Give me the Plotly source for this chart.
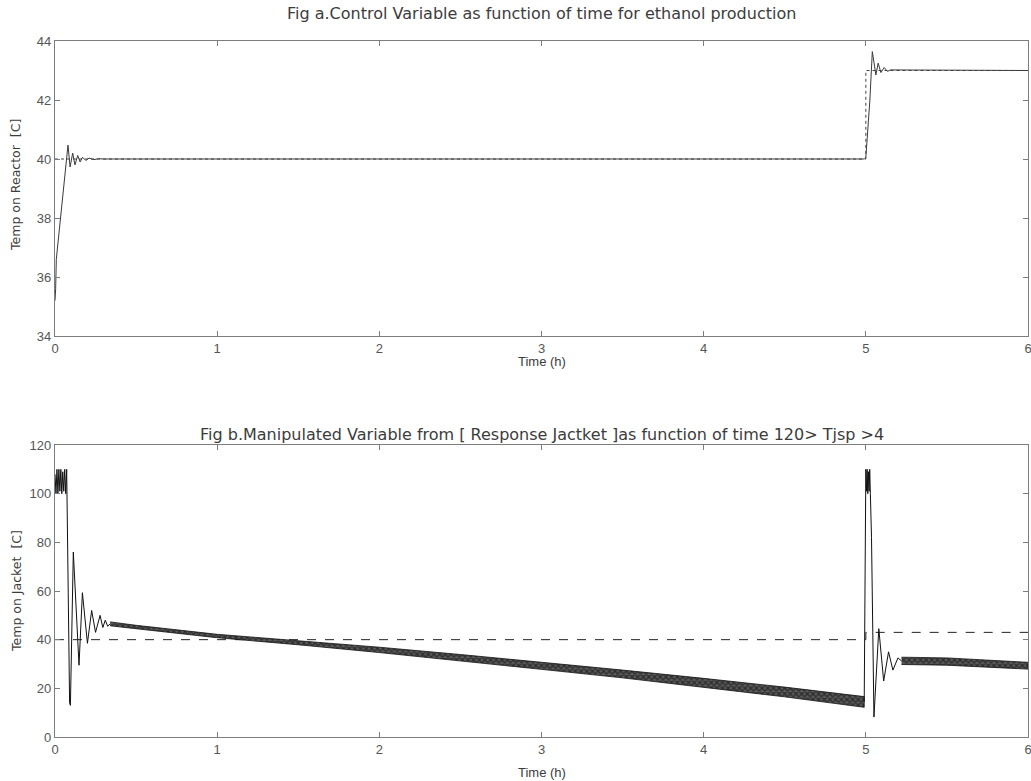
import plotly.graph_objects as go

# ---------------- Fig a: reactor temperature (controlled variable) ----------------
time_a = [0.0, 0.004, 0.008, 0.08, 0.093, 0.109, 0.123, 0.14, 0.155, 0.17, 0.19,
          0.21, 0.24, 0.27, 0.3, 0.33, 4.99, 5.0, 5.025, 5.04, 5.062, 5.076,
          5.093, 5.113, 5.134, 5.15, 6.0]
temp_reactor = [35.2, 35.6, 36.6, 40.47, 39.73, 40.2, 39.8, 40.12, 39.9, 40.06, 39.95,
                40.03, 39.98, 40.01, 40.0, 40.0, 40.0, 40.05, 42.0, 43.64, 42.85, 43.25,
                42.93, 43.1, 42.97, 43.02, 43.0]

# reactor set point
sp_time = [0.0, 5.0, 5.0, 6.0]
sp_reactor = [40, 40, 43, 43]

# ---------------- Fig b: jacket temperature (manipulated variable) ----------------
# start-up transient
time_b_start = [0.0, 0.006, 0.012, 0.018, 0.024, 0.03, 0.036, 0.042, 0.048, 0.054, 0.06,
                0.066, 0.072, 0.078, 0.09, 0.095, 0.113, 0.148, 0.169, 0.2, 0.226, 0.25,
                0.278, 0.295, 0.31, 0.325, 0.34]
jacket_start = [108, 100, 110, 100, 110, 101, 110, 100, 109, 101, 110,
                100, 110, 84, 14, 13, 76, 29.5, 59.3, 38.5, 52, 43,
                50, 45, 48, 45.5, 46.5]

# fast oscillating band (centre and half amplitude) from start-up to the step
band1_time = [0.34, 0.5, 1.0, 1.5, 2.0, 2.5, 3.0, 3.5, 4.0, 4.5, 4.99]
band1_mid = [46.5, 45.2, 41.5, 38.8, 35.8, 32.6, 29.3, 25.9, 22.3, 18.5, 14.4]
band1_half = [0.8, 0.7, 0.7, 0.9, 1.1, 1.3, 1.5, 1.6, 1.8, 2.0, 2.2]

# response to the set-point step at t = 5 h
time_b_step = [4.99, 5.0, 5.004, 5.008, 5.012, 5.016, 5.02, 5.024, 5.028, 5.035,
               5.05, 5.08, 5.11, 5.14, 5.167, 5.198, 5.22]
jacket_step = [14.4, 110, 101, 110, 100, 109, 101, 110, 100, 82,
               8.2, 44.5, 23, 35, 27.5, 32.5, 31.3]

band2_time = [5.22, 5.5, 6.0]
band2_mid = [31.3, 31.0, 29.3]
band2_half = [1.5, 1.5, 1.4]

# jacket reference
sp_jacket = [40, 40, 43, 43]

x_ticks = [0, 1, 2, 3, 4, 5, 6]

TEXT = "#3c3c3c"
AXIS = "#7d7d7d"
WIDE = "DejaVu Sans, Verdana, sans-serif"
NARROW = "Liberation Sans Narrow, Liberation Sans, Arial, sans-serif"


def band_polygon(t, mid, half):
    upper = [m + h for m, h in zip(mid, half)]
    lower = [m - h for m, h in zip(mid, half)]
    return t + t[::-1], upper + lower[::-1]


fig = go.Figure()

fig.add_trace(go.Scatter(x=sp_time, y=sp_reactor, mode="lines",
                         line=dict(color="#444444", width=1, dash="dot"),
                         xaxis="x", yaxis="y", showlegend=False))
fig.add_trace(go.Scatter(x=time_a, y=temp_reactor, mode="lines",
                         line=dict(color="#3a3a3a", width=1),
                         xaxis="x", yaxis="y", showlegend=False))

fig.add_trace(go.Scatter(x=sp_time, y=sp_jacket, mode="lines",
                         line=dict(color="#222222", width=1, dash="dash"),
                         xaxis="x2", yaxis="y2", showlegend=False))
for t, mid, half in [(band1_time, band1_mid, band1_half),
                     (band2_time, band2_mid, band2_half)]:
    px, py_ = band_polygon(t, mid, half)
    fig.add_trace(go.Scatter(x=px, y=py_, mode="lines", fill="toself",
                             fillcolor="#333333",
                             fillpattern=dict(shape="x", size=4, solidity=0.55,
                                              fgcolor="#000000", bgcolor="#5a5a5a"),
                             line=dict(color="#111111", width=0.8),
                             xaxis="x2", yaxis="y2", showlegend=False))
fig.add_trace(go.Scatter(x=time_b_start, y=jacket_start, mode="lines",
                         line=dict(color="#111111", width=1),
                         xaxis="x2", yaxis="y2", showlegend=False))
fig.add_trace(go.Scatter(x=time_b_step, y=jacket_step, mode="lines",
                         line=dict(color="#111111", width=1),
                         xaxis="x2", yaxis="y2", showlegend=False))

axis_common = dict(showgrid=False, zeroline=False, showline=True, linecolor=AXIS,
                   linewidth=1.2, mirror="ticks", ticks="inside", ticklen=5,
                   tickcolor=AXIS, tickwidth=1, automargin=False,
                   tickfont=dict(family=NARROW, size=13, color="#555555"))

M_L, M_R, M_T, M_B = 55, 3, 41, 44
H = 781
plot_h = H - M_T - M_B
plot_w = 1031 - M_L - M_R


def py(ypx):
    return (H - M_B - ypx) / plot_h


fig.update_layout(
    width=1031, height=781,
    margin=dict(l=M_L, r=M_R, t=M_T, b=M_B),
    paper_bgcolor="white", plot_bgcolor="white",
    xaxis=dict(domain=[0, 1], range=[0, 6], tickvals=x_ticks, anchor="y",
               ticklabeloverflow="allow", **axis_common),
    yaxis=dict(domain=[py(336), 1], range=[34, 44], dtick=2, anchor="x", **axis_common),
    xaxis2=dict(domain=[0, 1], range=[0, 6], tickvals=x_ticks, anchor="y2",
                ticklabeloverflow="allow", **axis_common),
    yaxis2=dict(domain=[0, py(445)], range=[0, 120], dtick=20, anchor="x2", **axis_common),
)

ann = []
ann.append(dict(text="Fig a.Control Variable as function of time for ethanol production",
                x=0.5, y=py(13), font=dict(family=WIDE, size=16, color=TEXT)))
ann.append(dict(text="Fig b.Manipulated Variable from [ Response Jactket ]as function of time 120> Tjsp >4",
                x=0.5, y=py(434), font=dict(family=WIDE, size=16, color=TEXT)))
ann.append(dict(text="Time (h)", x=0.5, y=py(362), font=dict(family=NARROW, size=13, color=TEXT)))
ann.append(dict(text="Time (h)", x=0.5, y=py(772), font=dict(family=NARROW, size=13, color=TEXT)))
ann.append(dict(text="Temp on Reactor  [C]", x=(16 - M_L) / plot_w, y=py(185), textangle=-90,
                font=dict(family=WIDE, size=12.5, color=TEXT)))
ann.append(dict(text="Temp on Jacket  [C]", x=(16 - M_L) / plot_w, y=py(591), textangle=-90,
                font=dict(family=WIDE, size=12.5, color=TEXT)))
for a in ann:
    a.update(xref="paper", yref="paper", showarrow=False, xanchor="center", yanchor="middle")
fig.update_layout(annotations=ann)

fig.write_html("out.html")
